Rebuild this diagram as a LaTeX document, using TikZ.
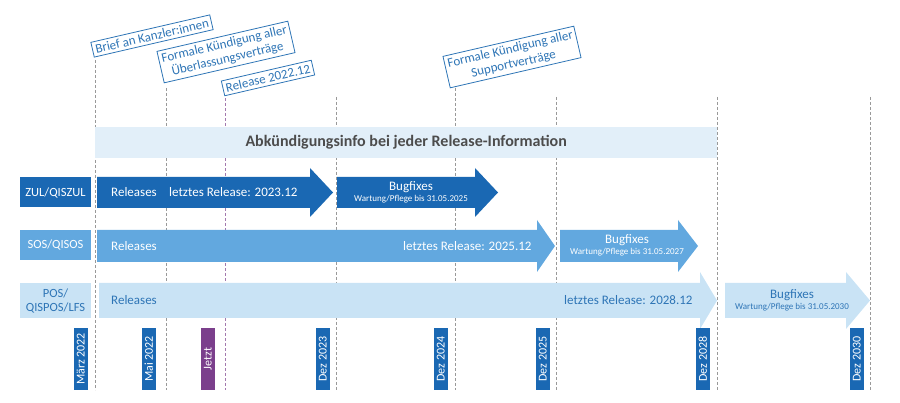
\documentclass[tikz,border=0pt]{standalone}
\usepackage{fontspec}
\setmainfont{Carlito}
\definecolor{dk}{HTML}{1A68B3}
\definecolor{md}{HTML}{62A8DF}
\definecolor{lt}{HTML}{C9E3F5}
\definecolor{ban}{HTML}{E2EFF9}
\definecolor{txt}{HTML}{2E75B6}
\definecolor{pur}{HTML}{7B3F8C}
\newcommand\mybt{\fontsize{13}{14}\selectfont}
\newcommand\myst{\fontsize{9}{10}\selectfont}
\begin{document}
\begin{tikzpicture}[x=1pt,y=-1pt,
  vline/.style={densely dashed,gray!80,line width=0.6pt},
  lbl/.style={draw=none,minimum width=71pt,inner sep=0pt,align=center,font=\fontsize{12.5}{14}\selectfont},
  date/.style={fill=dk,text=white,rotate=90,minimum width=62pt,minimum height=14pt,inner sep=0pt,font=\fontsize{12}{13}\selectfont},
  call/.style={draw=txt,fill=white,text=txt,rotate=13,align=center,inner sep=3pt,line width=0.8pt,font=\fontsize{13}{15}\selectfont},
  arrowtxt/.style={font=\fontsize{13}{14}\selectfont,anchor=west,inner sep=0pt}]
\useasboundingbox (0,0) rectangle (900,403);
% vertical lines
\coordinate (v1) at (95,60); \coordinate (w1) at (95,390);
\draw[vline] (v1) -- (w1);
\coordinate (v2) at (166,88); \coordinate (w2) at (166,390);
\draw[vline] (v2) -- (w2);
\coordinate (v3) at (225,98); \coordinate (w3) at (225,390);
\draw[vline,pur!70] (v3) -- (w3);
\foreach \x/\y in {336/97,455/88,556/97,717/97,870/97}{
  \coordinate (a) at (\x,\y); \coordinate (b) at (\x,390);
  \draw[vline] (a) -- (b);}
% banner
\node[fill=ban,minimum width=622pt,minimum height=31pt,inner sep=0pt,anchor=north west,font=\bfseries\fontsize{16}{18}\selectfont,text=black!70] (banner) at (95,127) {Abkündigungsinfo bei jeder Release-Information};
% row labels
\node[lbl,fill=dk,text=white,minimum height=30pt] (r1) at (55.5,192.5) {ZUL/QISZUL};
\node[lbl,fill=md,text=white,minimum height=30pt] (r2) at (55.5,245) {SOS/QISOS};
\node[lbl,fill=lt,text=txt,minimum height=35pt] (r3) at (55.5,300.5) {POS/\\QISPOS/LFS};
% arrows
\fill[dk] (97,177) -- (310,177) -- (310,168) -- (333,192.5) -- (310,217) -- (310,208) -- (97,208) -- cycle;
\fill[dk] (337,177) -- (475,177) -- (475,168) -- (498,192.5) -- (475,217) -- (475,208) -- (337,208) -- cycle;
\fill[md] (97,230) -- (537,230) -- (537,220) -- (555,246) -- (537,272) -- (537,262) -- (97,262) -- cycle;
\fill[md] (560,230) -- (678,230) -- (678,220) -- (698,246) -- (678,272) -- (678,262) -- (560,262) -- cycle;
\fill[lt] (99,283) -- (700,283) -- (700,272) -- (717,300.5) -- (700,329) -- (700,318) -- (99,318) -- cycle;
\fill[lt] (725,283) -- (846,283) -- (846,272) -- (870,300.5) -- (846,329) -- (846,318) -- (725,318) -- cycle;
% arrow texts
\node[arrowtxt,text=white] (t1) at (111,192.5) {Releases};
\node[arrowtxt,text=white] (t2) at (169,192.5) {letztes Release: 2023.12};
\node[align=center,text=white,inner sep=0pt] (t3) at (411,192) {{\mybt Bugfixes}\\[-1pt]{\myst Wartung/Pflege bis 31.05.2025}};
\node[arrowtxt,text=white] (t4) at (111,246) {Releases};
\node[arrowtxt,text=white] (t5) at (403,246) {letztes Release: 2025.12};
\node[align=center,text=white,inner sep=0pt] (t6) at (627,245) {{\mybt Bugfixes}\\[-1pt]{\myst Wartung/Pflege bis 31.05.2027}};
\node[arrowtxt,text=txt] (t7) at (111,300.5) {Releases};
\node[arrowtxt,text=txt] (t8) at (564,300.5) {letztes Release: 2028.12};
\node[align=center,text=txt,inner sep=0pt] (t9) at (792,300) {{\mybt Bugfixes}\\[-1pt]{\myst Wartung/Pflege bis 31.05.2030}};
% dates
\node[date,anchor=south] (d1) at (88,359) {März 2022};
\node[date,anchor=south] (d2) at (156,359) {Mai 2022};
\node[date,anchor=south,fill=pur] (d3) at (215,359) {Jetzt};
\node[date,anchor=south] (d4) at (330,359) {Dez 2023};
\node[date,anchor=south] (d5) at (448,359) {Dez 2024};
\node[date,anchor=south] (d6) at (550,359) {Dez 2025};
\node[date,anchor=south] (d7) at (710,359) {Dez 2028};
\node[date,anchor=south] (d8) at (864,359) {Dez 2030};
% callouts
\node[call] (c2) at (226,52) {Formale Kündigung aller\\Überlassungsverträge};
\node[call] (c1) at (152,36) {Brief an Kanzler:innen};
\node[call] (c3) at (268,78) {Release 2022.12};
\node[call] (c4) at (512,57) {Formale Kündigung aller\\Supportverträge};
\end{tikzpicture}
\end{document}
